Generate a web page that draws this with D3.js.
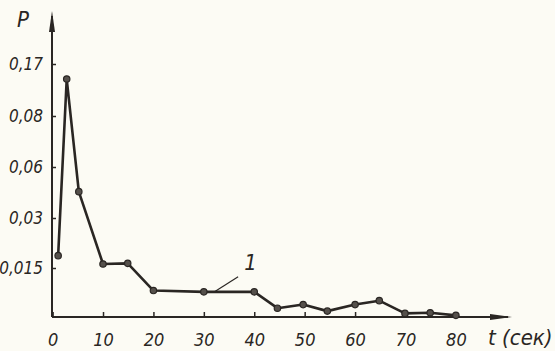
<!DOCTYPE html>
<html><head><meta charset="utf-8">
<script src="https://cdn.jsdelivr.net/npm/d3@7"></script>
<style>
html,body{margin:0;padding:0;background:#fcfbf4;}
svg{display:block;}
text{font-family:"Liberation Sans Narrow","DejaVu Sans Condensed","Liberation Sans",sans-serif;font-style:italic;fill:#2a2623;}
</style></head>
<body>
<script>
const times = [1.1, 2.8, 5.2, 10, 14.9, 20, 30, 40, 44.6, 49.7, 54.5, 60, 64.8, 69.9, 74.9, 80];
const probs = [0.0187, 0.144, 0.0455, 0.0162, 0.0164, 0.0081, 0.0077, 0.0077, 0.0027, 0.0038, 0.0018, 0.0038, 0.005, 0.0011, 0.0013, 0.0005];
const xTicks = [0, 10, 20, 30, 40, 50, 60, 70, 80];
const yTicks = [0.015, 0.03, 0.06, 0.08, 0.17];
const yLabels = ["0,015", "0,03", "0,06", "0,08", "0,17"];
const curveLabel = "1";
const xTitle = "t (сек)";
const yTitle = "P";

const W = 555, H = 351;
const ink = "#2a2623";
const svg = d3.select("body").append("svg").attr("width", W).attr("height", H);

const x = d3.scaleLinear().domain([0, 80]).range([52.6, 455.9]);
const y = d3.scaleLinear().domain([0, 0.015, 0.03, 0.06, 0.08, 0.17]).range([317, 268, 218, 167, 116, 64]);

const x0 = 52, y0 = 317;
// axes lines with arrows
svg.append("line").attr("x1", x0).attr("y1", y0).attr("x2", 508).attr("y2", y0).attr("stroke", ink).attr("stroke-width", 2);
svg.append("path").attr("d", `M512,${y0} L490,${y0-3} L490,${y0+3} Z`).attr("fill", ink);
svg.append("line").attr("x1", x0).attr("y1", y0).attr("x2", x0).attr("y2", 16).attr("stroke", ink).attr("stroke-width", 2);
svg.append("path").attr("d", `M${x0},11 L${x0-3},32 L${x0+3},32 Z`).attr("fill", ink);

const xa = svg.append("g").attr("transform", `translate(0,${y0})`)
  .call(d3.axisBottom(x).tickValues(xTicks).tickSize(-5).tickPadding(16).tickFormat(d3.format("d")));
xa.select(".domain").remove();
xa.selectAll(".tick line").attr("stroke", ink).attr("stroke-width", 1.5);
xa.selectAll(".tick text").attr("font-size", 18).attr("fill", ink).style("font-family", null).attr("font-family", null);

const ya = svg.append("g").attr("transform", `translate(${x0},0)`)
  .call(d3.axisLeft(y).tickValues(yTicks).tickSize(-4).tickPadding(9).tickFormat((d, i) => yLabels[i]));
ya.select(".domain").remove();
ya.selectAll(".tick line").attr("stroke", ink).attr("stroke-width", 1.5);
ya.selectAll(".tick text").attr("font-size", 17).attr("fill", ink).attr("font-family", null);
svg.selectAll(".tick text").attr("font-family", null);

const pts = times.map((t, i) => [t, probs[i]]);
svg.append("path").datum(pts)
  .attr("d", d3.line().x(d => x(d[0])).y(d => y(d[1])))
  .attr("fill", "none").attr("stroke", ink).attr("stroke-width", 2.6).attr("stroke-linejoin", "round");
svg.selectAll("circle.pt").data(pts).join("circle").attr("class", "pt")
  .attr("cx", d => x(d[0])).attr("cy", d => y(d[1])).attr("r", 3.2)
  .attr("fill", "#55504b").attr("stroke", ink).attr("stroke-width", 1.2);

// annotation "1"
svg.append("line").attr("x1", x(32.2)).attr("y1", y(0.0078)).attr("x2", x(36.8)).attr("y2", y(0.0123))
  .attr("stroke", ink).attr("stroke-width", 1.2);
svg.append("text").attr("x", x(38)).attr("y", y(0.0145)).attr("font-size", 22).attr("font-family", "Liberation Serif").text(curveLabel);

svg.append("text").attr("x", 488).attr("y", 345).attr("font-size", 22).text(xTitle);
svg.append("text").attr("x", 17).attr("y", 27).attr("font-size", 22).text(yTitle);
</script>
</body></html>
